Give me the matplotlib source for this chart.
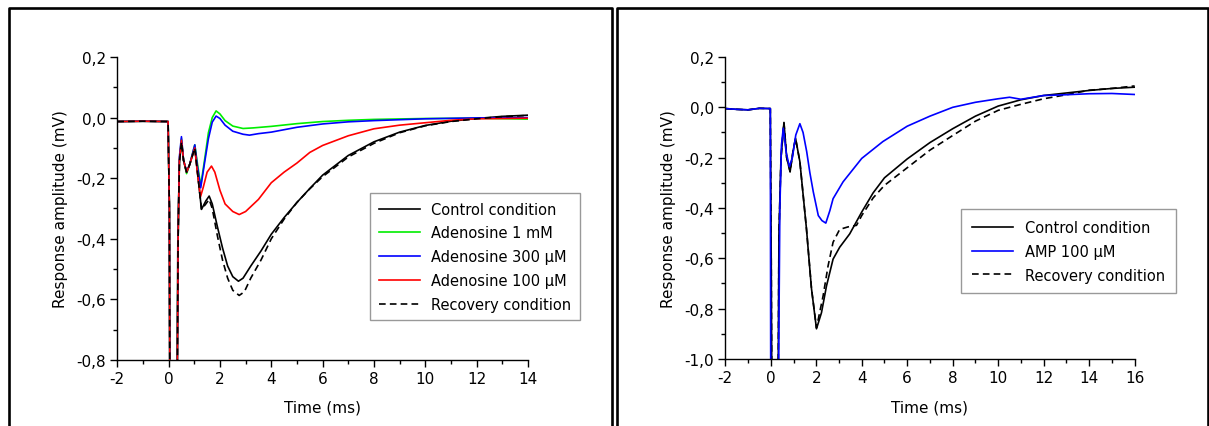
import matplotlib
matplotlib.use("Agg")
import matplotlib.pyplot as plt
from matplotlib.lines import Line2D
from matplotlib.ticker import MultipleLocator

# ── Data: left panel (adenosine) ─────────────────────────────────────────────
t_ctrl_l = [-2, -1, -0.02, 0.03, 0.05, 0.32, 0.36, 0.42, 0.5, 0.58, 0.7, 0.82, 1.02,
            1.15, 1.28, 1.45, 1.58, 1.7, 1.9, 2.1, 2.3, 2.5, 2.72, 2.9, 3.2, 3.6, 4.0,
            4.5, 5.0, 5.5, 6.0, 7.0, 8.0, 9.0, 10.0, 11.0, 12.0, 13.0, 14.0]
v_ctrl_l = [-0.013, -0.012, -0.013, -0.3, -1.0, -1.0, -0.4, -0.15, -0.08, -0.14, -0.18, -0.155, -0.1,
            -0.2, -0.303, -0.275, -0.259, -0.285, -0.36, -0.43, -0.49, -0.525, -0.54, -0.53, -0.49, -0.44, -0.385,
            -0.33, -0.28, -0.234, -0.19, -0.125, -0.08, -0.048, -0.026, -0.012, -0.003, 0.004, 0.008]

t_rec_l = [-2, -1, -0.02, 0.03, 0.05, 0.33, 0.37, 0.42, 0.5, 0.58, 0.7, 0.82, 1.02,
           1.15, 1.28, 1.45, 1.58, 1.7, 1.9, 2.1, 2.3, 2.5, 2.75, 2.95, 3.2, 3.6, 4.0,
           4.5, 5.0, 5.5, 6.0, 7.0, 8.0, 9.0, 10.0, 11.0, 12.0, 13.0, 14.0]
v_rec_l = [-0.013, -0.012, -0.013, -0.3, -1.0, -1.0, -0.4, -0.15, -0.08, -0.14, -0.18, -0.155, -0.1,
           -0.2, -0.303, -0.285, -0.27, -0.3, -0.39, -0.47, -0.53, -0.57, -0.587, -0.575, -0.53, -0.47, -0.4,
           -0.335, -0.28, -0.235, -0.195, -0.13, -0.085, -0.05, -0.027, -0.013, -0.004, 0.003, 0.007]

t_ado1 = [-2, -1, -0.02, 0.03, 0.05, 0.33, 0.37, 0.42, 0.5, 0.58, 0.7, 0.82, 1.02, 1.12,
          1.25, 1.4, 1.55, 1.7, 1.85, 2.0, 2.2, 2.5, 2.9, 3.3, 4, 5, 6, 7, 8, 10, 12, 14]
v_ado1 = [-0.013, -0.012, -0.013, -0.3, -1.0, -1.0, -0.4, -0.14, -0.07, -0.14, -0.185, -0.155, -0.09, -0.15,
          -0.225, -0.14, -0.05, 0.0, 0.022, 0.012, -0.01, -0.028, -0.036, -0.034, -0.029, -0.02, -0.013,
          -0.009, -0.006, -0.003, -0.002, -0.005]

t_ado300 = [-2, -1, -0.02, 0.03, 0.05, 0.33, 0.37, 0.42, 0.5, 0.58, 0.7, 0.82, 1.02, 1.12,
            1.25, 1.4, 1.55, 1.7, 1.85, 2.0, 2.2, 2.5, 2.9, 3.15, 3.5, 4, 5, 6, 7, 8, 10, 12, 14]
v_ado300 = [-0.013, -0.012, -0.013, -0.3, -1.0, -1.0, -0.4, -0.13, -0.063, -0.14, -0.18, -0.155, -0.09, -0.16,
            -0.232, -0.15, -0.07, -0.015, 0.005, -0.003, -0.025, -0.045, -0.055, -0.058, -0.053, -0.048,
            -0.032, -0.021, -0.014, -0.01, -0.004, -0.001, 0.0]

t_ado100 = [-2, -1, -0.02, 0.03, 0.05, 0.33, 0.37, 0.42, 0.5, 0.58, 0.7, 0.82, 1.02, 1.12,
            1.24, 1.35, 1.5, 1.67, 1.8, 2.0, 2.2, 2.5, 2.75, 3.0, 3.5, 4, 4.5, 5, 5.5, 6, 7, 8, 9,
            10, 11, 12, 13, 14]
v_ado100 = [-0.013, -0.012, -0.013, -0.3, -1.0, -1.0, -0.4, -0.14, -0.075, -0.14, -0.18, -0.155, -0.1, -0.18,
            -0.262, -0.23, -0.18, -0.16, -0.18, -0.24, -0.285, -0.31, -0.32, -0.31, -0.27, -0.215, -0.18,
            -0.15, -0.115, -0.092, -0.06, -0.037, -0.025, -0.017, -0.009, -0.004, -0.003, -0.002]

# ── Data: right panel (AMP) ──────────────────────────────────────────────────
t_ctrl_r = [-2, -1.5, -1, -0.5, -0.02, 0.02, 0.05, 0.32, 0.36, 0.45, 0.58, 0.7, 0.85, 0.97,
            1.09, 1.28, 1.57, 1.79, 2.01, 2.23, 2.45, 2.74, 3.03, 3.47, 4.0, 4.5, 5.0, 6, 7, 8, 9,
            10, 11, 12, 13, 14, 15, 16]
v_ctrl_r = [-0.005, -0.008, -0.01, -0.004, -0.005, -0.6, -1.2, -1.2, -0.5, -0.2, -0.06, -0.2, -0.256, -0.18,
            -0.123, -0.216, -0.483, -0.72, -0.88, -0.816, -0.71, -0.603, -0.556, -0.503, -0.416, -0.34,
            -0.28, -0.205, -0.14, -0.085, -0.035, 0.005, 0.03, 0.047, 0.057, 0.067, 0.075, 0.08]

t_amp = [-2, -1.5, -1, -0.5, -0.02, 0.0, 0.33, 0.4, 0.47, 0.55, 0.68, 0.82, 0.95, 1.1, 1.28,
         1.42, 1.58, 1.72, 1.87, 2.09, 2.25, 2.42, 2.6, 2.74, 3.18, 4.0, 4.93, 6, 7, 8, 9, 10,
         10.5, 11, 12, 13, 14, 15, 16]
v_amp = [-0.005, -0.008, -0.01, -0.004, -0.005, -1.2, -1.2, -0.4, -0.15, -0.083, -0.18, -0.236, -0.2, -0.11,
         -0.065, -0.1, -0.176, -0.26, -0.336, -0.43, -0.45, -0.46, -0.41, -0.363, -0.296, -0.203, -0.136,
         -0.075, -0.035, 0.0, 0.02, 0.034, 0.04, 0.032, 0.047, 0.05, 0.054, 0.055, 0.051]

t_rec_r = [-2, -1.5, -1, -0.5, -0.02, 0.02, 0.05, 0.32, 0.36, 0.45, 0.58, 0.7, 0.85, 0.97,
           1.09, 1.28, 1.57, 1.79, 2.01, 2.3, 2.52, 2.74, 3.03, 3.4, 3.77, 4.0, 4.5, 5, 6, 7, 8, 9,
           10, 11, 12, 13, 14, 15, 16]
v_rec_r = [-0.005, -0.008, -0.01, -0.004, -0.005, -0.6, -1.2, -1.2, -0.5, -0.2, -0.06, -0.2, -0.256, -0.18,
           -0.123, -0.216, -0.483, -0.72, -0.876, -0.75, -0.63, -0.536, -0.485, -0.475, -0.469, -0.43,
           -0.36, -0.31, -0.24, -0.17, -0.112, -0.055, -0.012, 0.012, 0.034, 0.05, 0.068, 0.075, 0.085]

yticks_l = [0.2, 0.0, -0.2, -0.4, -0.6, -0.8]
yticks_r = [0.2, 0.0, -0.2, -0.4, -0.6, -0.8, -1.0]
xticks_l = [-2, 0, 2, 4, 6, 8, 10, 12, 14]
xticks_r = [-2, 0, 2, 4, 6, 8, 10, 12, 14, 16]


def comma(v):
    return f"{v:.1f}".replace(".", ",").replace("-0,0", "0,0")


plt.rcParams["font.family"] = "DejaVu Sans"
fig = plt.figure(figsize=(12.09, 4.27), dpi=100)

ax1 = fig.add_axes([0.097, 0.1546, 0.3397, 0.7096])
ax2 = fig.add_axes([0.5999, 0.1569, 0.3386, 0.7073])

lw = 1.2
dash = (0, (4, 2.5))
ax1.plot(t_ctrl_l, v_ctrl_l, color="black", lw=lw, label="Control condition")
ax1.plot(t_ado1, v_ado1, color="#00ee00", lw=lw, label="Adenosine 1 mM")
ax1.plot(t_ado300, v_ado300, color="#0000ff", lw=lw, label="Adenosine 300 µM")
ax1.plot(t_ado100, v_ado100, color="#ff0000", lw=lw, label="Adenosine 100 µM")
ax1.plot(t_rec_l, v_rec_l, color="black", lw=lw, ls=dash, label="Recovery condition")

ax2.plot(t_ctrl_r, v_ctrl_r, color="black", lw=lw, label="Control condition")
ax2.plot(t_rec_r, v_rec_r, color="black", lw=lw, ls=dash, label="Recovery condition")
ax2.plot(t_amp, v_amp, color="#0000ff", lw=lw, label="AMP 100 µM")

for ax, xl, yl, xt, yt in [(ax1, (-2, 14), (-0.8, 0.2), xticks_l, yticks_l),
                           (ax2, (-2, 16), (-1.0, 0.2), xticks_r, yticks_r)]:
    ax.set_xlim(*xl)
    ax.set_ylim(*yl)
    ax.set_xticks(xt)
    ax.set_xticklabels([str(x) for x in xt])
    ax.set_yticks(yt)
    ax.set_yticklabels([comma(y) for y in yt])
    ax.xaxis.set_minor_locator(MultipleLocator(1))
    ax.yaxis.set_minor_locator(MultipleLocator(0.1))
    ax.spines["top"].set_visible(False)
    ax.spines["right"].set_visible(False)
    ax.spines["left"].set_linewidth(1.0)
    ax.spines["bottom"].set_linewidth(1.0)
    ax.tick_params(which="major", direction="out", length=5, width=1, labelsize=11, pad=3)
    ax.tick_params(which="minor", direction="out", length=3, width=1)
    ax.set_xlabel("Time (ms)", fontsize=11, labelpad=10)
    ax.set_ylabel("Response amplitude (mV)", fontsize=11, labelpad=6)
    ax.patch.set_alpha(0)

# legends
h, l = ax1.get_legend_handles_labels()
leg1 = ax1.legend(h, l, loc="upper left", bbox_to_anchor=(0.306, 0.546),
                  bbox_transform=fig.transFigure, fontsize=10.5, frameon=True,
                  fancybox=False, edgecolor="#808080", handlelength=2.8,
                  labelspacing=0.6, borderaxespad=0, borderpad=0.6)
leg1.get_frame().set_linewidth(1.0)

h, l = ax2.get_legend_handles_labels()
order = [0, 2, 1]
leg2 = ax2.legend([h[i] for i in order], [l[i] for i in order], loc="upper left",
                  bbox_to_anchor=(0.795, 0.508), bbox_transform=fig.transFigure,
                  fontsize=10.5, frameon=True, fancybox=False, edgecolor="#808080",
                  handlelength=2.8, labelspacing=0.6, borderaxespad=0, borderpad=0.75)
leg2.get_frame().set_linewidth(1.0)

# panel frames
W, H = 1209, 427


def fx(px):
    return px / W


def fy(py):
    return 1 - py / H


for x0, x1 in [(9, 611.5), (616.5, 1207.5)]:
    fig.add_artist(Line2D([fx(x0), fx(x0), fx(x1), fx(x1)],
                          [fy(H + 5), fy(9), fy(9), fy(H + 5)],
                          transform=fig.transFigure, color="black", lw=1.9))

fig.savefig("out.png", dpi=100)
